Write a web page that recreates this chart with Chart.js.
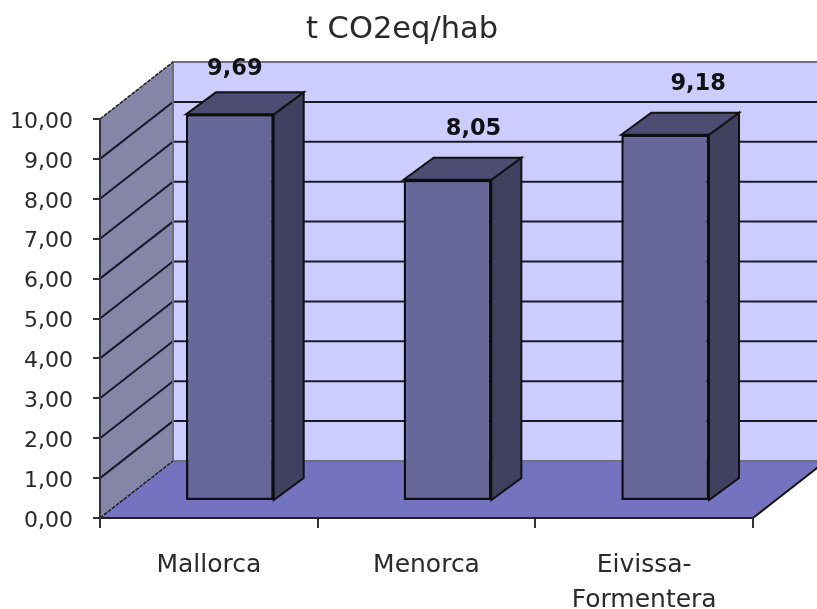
<!DOCTYPE html>
<html>
<head>
<meta charset="utf-8">
<style>
  html, body { margin: 0; padding: 0; background: #fff; }
  canvas { display: block; filter: blur(0.4px); }
</style>
<script src="https://cdn.jsdelivr.net/npm/chart.js@4"></script>
</head>
<body>
<canvas id="chart" width="817" height="609"></canvas>
<script>
// ----------- Data -----------
const categories = [["Mallorca"], ["Menorca"], ["Eivissa-", "Formentera"]];
const values = [9.69, 8.05, 9.18];
const yTicks = ["0,00", "1,00", "2,00", "3,00", "4,00", "5,00", "6,00", "7,00", "8,00", "9,00", "10,00"];
const valueLabels = ["9,69", "8,05", "9,18"];
const titleText = "t CO2eq/hab";

// ----------- 3D look -----------
const FONT = '"DejaVu Sans", sans-serif';
const wallDepth = { x: 73, y: 57 };   // floor/back wall offset
const barFront = { x: 21, y: 17 };    // bars stand a bit in from the front edge
const barDepth = { x: 30, y: 22 };
const labelNudge = [[5, -45], [26, -51], [33, -51]]; // label centre relative to the bar top

function poly(ctx, pts, fill, stroke, lw) {
  ctx.beginPath();
  pts.forEach((p, i) => i ? ctx.lineTo(p[0], p[1]) : ctx.moveTo(p[0], p[1]));
  ctx.closePath();
  if (fill) { ctx.fillStyle = fill; ctx.fill(); }
  if (stroke) { ctx.strokeStyle = stroke; ctx.lineWidth = lw || 1; ctx.stroke(); }
}

const walls3d = {
  id: 'walls3d',
  afterLayout(chart) {
    chart.titleBlock.right = 804; // title centre at x=402, not over the plot
  },
  beforeDraw(chart) {
    const { ctx, chartArea: a, scales: { y } } = chart;
    const dx = wallDepth.x, dy = wallDepth.y;
    const y0 = y.getPixelForValue(0), yMax = y.getPixelForValue(10);
    ctx.save();
    // back wall
    poly(ctx, [[a.left + dx, yMax - dy], [a.right + dx, yMax - dy], [a.right + dx, y0 - dy], [a.left + dx, y0 - dy]], '#ccccff');
    // left wall
    poly(ctx, [[a.left, yMax], [a.left + dx, yMax - dy], [a.left + dx, y0 - dy], [a.left, y0]], '#8585a8');
    // floor
    poly(ctx, [[a.left, y0], [a.left + dx, y0 - dy], [a.right + dx, y0 - dy], [a.right, y0]], '#7373bf');

    // grid lines, back wall and left wall
    ctx.strokeStyle = '#1a1a2a';
    ctx.lineWidth = 2;
    for (let v = 1; v < 10; v++) {
      const py = y.getPixelForValue(v);
      ctx.beginPath();
      ctx.moveTo(a.left, py);
      ctx.lineTo(a.left + dx, py - dy);
      ctx.lineTo(a.right + dx, py - dy);
      ctx.stroke();
    }
    // grey edges
    ctx.strokeStyle = '#6e6e7e';
    ctx.beginPath();
    ctx.moveTo(a.left + dx, y0 - dy);
    ctx.lineTo(a.left + dx, yMax - dy);
    ctx.lineTo(a.right + dx, yMax - dy);
    ctx.moveTo(a.left + dx, y0 - dy);
    ctx.lineTo(a.right + dx, y0 - dy);
    ctx.stroke();
    // dashed edges of the left wall
    ctx.setLineDash([4, 1]);
    ctx.strokeStyle = '#222';
    ctx.lineWidth = 1.5;
    ctx.beginPath();
    ctx.moveTo(a.left, yMax);
    ctx.lineTo(a.left + dx, yMax - dy);
    ctx.moveTo(a.left, y0);
    ctx.lineTo(a.left + dx, y0 - dy);
    ctx.stroke();
    ctx.setLineDash([]);
    // right edge of the floor
    ctx.strokeStyle = '#111';
    ctx.lineWidth = 2;
    ctx.beginPath();
    ctx.moveTo(a.right, y0);
    ctx.lineTo(a.right + dx, y0 - dy);
    ctx.stroke();
    ctx.restore();
  },
  beforeDatasetDraw(chart, args) {
    const { ctx } = chart;
    const els = chart.getDatasetMeta(args.index).data;
    ctx.save();
    ctx.translate(barFront.x, -barFront.y);
    // side and top faces first, the library then draws the front face over them
    els.forEach(el => {
      const l = el.x - el.width / 2, r = el.x + el.width / 2;
      const dx = barDepth.x, dy = barDepth.y;
      poly(ctx, [[r, el.y], [r + dx, el.y - dy], [r + dx, el.base - dy], [r, el.base]], '#40405f', '#111', 2);
      poly(ctx, [[l, el.y], [l + dx, el.y - dy], [r + dx, el.y - dy], [r, el.y]], '#4d4d73', '#111', 2);
    });
  },
  afterDatasetDraw(chart) {
    chart.ctx.restore();
  },
  afterDatasetsDraw(chart) {
    const { ctx } = chart;
    const els = chart.getDatasetMeta(0).data;
    ctx.save();
    ctx.fillStyle = '#111';
    ctx.font = 'bold 22.5px ' + FONT;
    ctx.textAlign = 'center';
    ctx.textBaseline = 'middle';
    els.forEach((el, i) => {
      ctx.fillText(valueLabels[i], el.x + barFront.x + labelNudge[i][0], el.y - barFront.y + labelNudge[i][1]);
    });
    ctx.restore();
  }
};

// ----------- Chart -----------
new Chart(document.getElementById('chart'), {
  type: 'bar',
  data: {
    labels: categories,
    datasets: [{
      data: values,
      backgroundColor: '#666699',
      borderColor: '#0c0c14',
      borderWidth: 2.5,
      borderSkipped: false,
      barPercentage: 0.403,
      categoryPercentage: 1,
      clip: false
    }]
  },
  plugins: [walls3d],
  options: {
    responsive: false,
    animation: false,
    layout: { padding: { top: 12, right: 64, left: 0, bottom: 0 } },
    plugins: {
      legend: { display: false },
      tooltip: { enabled: false },
      title: {
        display: true,
        text: titleText,
        color: '#2a2a2a',
        font: { family: FONT, size: 30.5, weight: 'normal', lineHeight: 1.2 },
        padding: { top: 0, bottom: 70.4 }
      }
    },
    scales: {
      x: {
        afterFit(scale) { scale.height = 91; },
        border: { color: '#222', width: 2 },
        grid: { drawOnChartArea: false, color: '#333', lineWidth: 2, tickLength: 10 },
        ticks: {
          autoSkip: false, maxRotation: 0, padding: 20, color: '#2a2a2a',
          font: { family: FONT, size: 25, lineHeight: 1.4 }
        }
      },
      y: {
        min: 0,
        max: 10,
        afterFit(scale) { scale.width = 100; },
        border: { color: '#333', width: 2 },
        grid: { drawOnChartArea: false, color: '#333', lineWidth: 2, tickLength: 7 },
        ticks: {
          stepSize: 1, padding: 20, color: '#2a2a2a', labelOffset: 3,
          font: { family: FONT, size: 22 },
          callback: (value, i) => yTicks[i]
        }
      }
    }
  }
});
</script>
</body>
</html>
